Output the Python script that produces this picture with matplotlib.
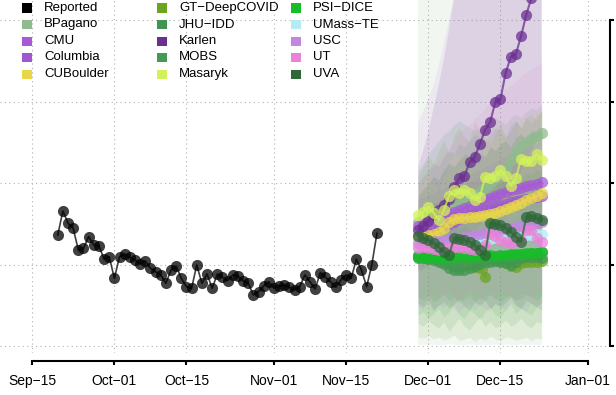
import pandas as pd
import matplotlib
matplotlib.use("Agg")
import matplotlib.pyplot as plt
import matplotlib.dates as mdates
from matplotlib.patches import Rectangle

plt.rcParams['font.family'] = ['Liberation Sans', 'DejaVu Sans']

# observed series, daily from Sep-20
reported_dates = pd.date_range("2020-09-20", periods=63)
reported = [68.1, 82.8, 75.3, 72.2, 58.9, 59.9, 67.1, 62.0, 61.5, 53.2,
            54.8, 41.5, 54.8, 56.4, 54.4, 52.8, 50.3, 52.3, 47.7, 45.6,
            43.6, 38.5, 46.6, 49.1, 41.5, 36.4, 35.4, 49.7, 38.5, 44.2,
            35.4, 44.2, 42.1, 40.1, 43.6, 42.9, 40.1, 38.5, 31.3, 33.3,
            36.8, 39.4, 35.4, 36.8, 37.4, 36.0, 34.4, 36.4, 43.6, 39.4,
            35.0, 45.0, 42.1, 39.4, 36.0, 40.5, 43.6, 41.5, 53.2, 46.6,
            36.4, 49.7, 69.1]

# forecasts, daily from Nov-29
fc_dates = pd.date_range("2020-11-29", periods=25)

bpagano_mid = [76.1, 77.3, 78.5, 79.8, 81.0, 82.2, 83.4, 85.3, 87.1, 89.0, 90.8, 92.6, 94.5,
               96.9, 99.4, 102.5, 105.5, 109.2, 114.1, 119.0, 122.7, 125.2, 127.0, 128.8, 130.7]
bpagano_lo = [0.6, 0.8, 0.5, 0.9, 0.7, 0.6, 1.0, 0.8, 0.5, 0.7, 0.9, 0.6, 0.8, 0.7, 0.5, 0.9, 0.6, 0.8,
              0.7, 0.6, 0.9, 0.7, 0.8, 0.6, 0.7]
bpagano_hi = [320, 322, 325, 327, 330, 332, 334, 336, 338, 340, 342, 344, 346, 348, 350, 352, 354, 356,
              358, 360, 362, 364, 366, 368, 370]

cmu_mid = [73.6, 74.8, 76.1, 77.3, 78.5, 79.8, 81.0, 82.2, 83.4, 84.7, 85.9, 87.1, 88.3,
           89.6, 90.8, 92.0, 93.3, 94.5, 95.7, 96.3, 96.9, 98.2, 98.8, 99.4, 100.6]
cmu_lo = [58, 59, 60, 61, 62, 63, 64, 65, 66, 66, 67, 68, 69, 70, 71, 71, 72, 73, 74, 74, 75, 76, 76, 77, 78]
cmu_hi = [90, 91, 93, 94, 96, 97, 99, 100, 102, 104, 105, 107, 108, 110, 111, 113, 115, 116, 118,
          119, 120, 122, 123, 124, 126]

columbia_mid = [67.5, 68.7, 69.9, 71.2, 72.4, 73.6, 74.8, 76.1, 77.9, 79.1, 80.4, 81.0, 82.2,
                83.4, 84.0, 85.3, 86.5, 87.1, 88.3, 89.0, 89.6, 90.2, 90.8, 91.4, 92.0]
columbia_lo = [54, 55, 56, 57, 57, 58, 59, 60, 61, 62, 63, 63, 64, 65, 65, 66, 67, 67, 68, 69, 69, 70, 70, 71, 71]
columbia_hi = [82, 84, 85, 87, 89, 91, 93, 95, 97, 99, 101, 102, 104, 106, 107, 109, 111, 112, 114,
               115, 116, 117, 118, 119, 120]

cuboulder_mid = [66.3, 66.9, 68.1, 68.7, 69.9, 72.4, 76.1, 77.9, 78.5, 78.5, 79.1, 79.1, 79.8,
                 80.4, 81.0, 81.6, 82.8, 84.1, 85.3, 86.5, 87.7, 89.6, 90.8, 92.0, 93.9]
cuboulder_lo = [52, 52, 53, 54, 55, 57, 59, 60, 60, 60, 61, 61, 61, 62, 62, 62, 63, 64, 64, 65, 66, 67, 67, 68, 69]
cuboulder_hi = [82, 83, 85, 86, 88, 91, 95, 97, 98, 99, 100, 100, 101, 102, 103, 104, 105, 107, 108,
                110, 111, 113, 115, 116, 118]

gt_mid = [55.2, 55.2, 54.6, 54.0, 53.4, 52.8, 52.1, 51.5, 50.9, 50.3, 49.7, 48.5, 47.9,
          42.3, 54.0, 53.4, 52.1, 50.9, 49.1, 48.5, 50.9, 51.5, 51.5, 51.5, 52.1]
gt_lo = [5.5, 4.9, 6.1, 4.3, 5.5, 3.7, 4.9, 6.7, 3.1, 4.3, 5.5, 2.5, 4.9, 3.7, 6.1, 4.3, 3.1, 5.5,
         4.9, 3.7, 4.3, 5.5, 3.1, 4.9, 4.3]
gt_hi = [104, 110, 116, 112, 120, 126, 118, 130, 134, 128, 126, 138, 132, 128, 124, 130, 136, 128,
         132, 138, 134, 140, 136, 142, 144]

jhu_mid = [54.0, 54.0, 53.4, 52.8, 51.5, 50.3, 47.9, 46.6, 46.6, 46.6, 47.9, 49.1, 50.3,
           51.5, 51.5, 52.1, 51.5, 50.9, 49.7, 51.5, 54.0, 54.6, 54.6, 54.6, 54.0]
jhu_lo = [14, 12, 16, 13, 11, 15, 9, 13, 17, 12, 10, 14, 18, 12, 15, 11, 13, 16, 12, 14, 17, 13, 11, 15, 14]
jhu_hi = [100, 104, 108, 112, 110, 116, 120, 118, 124, 122, 126, 130, 128, 126, 130, 134, 132, 128,
          136, 138, 134, 140, 142, 138, 145]

karlen_mid = [71.2, 73.6, 76.7, 80.4, 83.4, 86.5, 90.2, 97.5, 103.1, 104.3, 112.9, 116.0, 123.9,
              132.5, 137.4, 149.7, 151.5, 167.5, 177.3, 179.1, 190.2, 203.1, 213.5, 224.5, 236.8]
karlen_lo = [46, 47, 49, 51, 52, 54, 56, 60, 63, 64, 68, 70, 74, 78, 80, 86, 88, 95, 100, 102,
             107, 114, 120, 126, 132]
karlen_hi = [110, 120, 132, 146, 160, 176, 194, 214, 236, 258, 282, 306, 332, 360, 390, 420, 450,
             480, 510, 540, 570, 600, 630, 660, 690]

mobs_mid = [55.8, 55.2, 54.6, 54.0, 53.4, 52.1, 51.5, 50.9, 51.5, 52.1, 52.8, 53.4, 54.0,
            54.0, 54.6, 54.6, 55.2, 55.2, 55.8, 55.8, 56.4, 56.4, 57.1, 57.1, 57.7]
mobs_lo = [19, 21, 17, 20, 23, 18, 21, 25, 19, 17, 22, 20, 16, 21, 24, 19, 18, 22, 26, 20, 23, 21, 19, 24, 22]
mobs_hi = [108, 112, 118, 122, 126, 130, 132, 136, 138, 136, 134, 132, 134, 136, 138, 140, 138, 136,
           140, 142, 140, 144, 146, 145, 148]

masaryk_mid = [80.4, 82.2, 85.3, 81.6, 77.3, 83.4, 92.0, 95.7, 93.9, 95.7, 93.9, 89.6, 91.4,
               103.7, 103.1, 104.3, 108.0, 104.3, 98.2, 103.1, 114.7, 113.5, 113.5, 117.8, 114.1]
masaryk_lo = [62, 64, 66, 63, 59, 64, 71, 74, 72, 74, 72, 69, 70, 80, 79, 80, 83, 80, 75, 79, 88, 87, 87, 90, 88]
masaryk_hi = [99, 101, 105, 100, 95, 103, 113, 118, 116, 118, 116, 110, 112, 128, 127, 129, 133, 129,
              121, 127, 142, 140, 140, 146, 141]

psi_mid = [54.6, 54.6, 54.0, 54.0, 54.6, 54.0, 54.6, 54.6, 55.2, 55.2, 54.6, 55.2, 55.2,
           55.8, 55.8, 55.2, 55.8, 55.8, 56.4, 56.4, 56.4, 57.1, 57.1, 57.1, 57.7]
psi_lo = [30, 28, 31, 27, 29, 32, 28, 30, 26, 29, 31, 27, 30, 28, 32, 29, 27, 30, 31, 28, 29, 32, 30, 28, 31]
psi_hi = [84, 86, 85, 88, 87, 90, 89, 92, 91, 94, 93, 96, 95, 98, 97, 100, 99, 102, 101, 104, 103,
          106, 105, 108, 107]

umass_mid = [61.4, 62.0, 62.0, 62.6, 62.6, 63.2, 63.2, 63.8, 63.8, 64.4, 64.4, 65.0, 65.0,
             65.6, 65.6, 66.3, 66.3, 66.9, 66.9, 67.5, 67.5, 68.1, 68.1, 68.7, 68.7]
umass_lo = [50, 50, 51, 51, 51, 52, 52, 52, 53, 53, 53, 54, 54, 54, 55, 55, 55, 56, 56, 56, 57, 57, 57, 58, 58]
umass_hi = [73, 74, 74, 75, 75, 76, 76, 77, 77, 78, 78, 79, 79, 80, 80, 81, 81, 82, 82, 83, 83, 84, 84, 85, 85]

usc_mid = [63.2, 63.8, 63.8, 64.4, 64.4, 65.0, 65.6, 65.6, 66.3, 66.9, 67.5, 68.1, 68.7,
           69.3, 69.9, 70.6, 71.2, 71.8, 72.4, 73.0, 73.6, 74.2, 74.8, 75.5, 76.1]
usc_lo = [24, 22, 26, 21, 25, 23, 27, 22, 20, 24, 26, 22, 25, 23, 21, 26, 24, 22, 27, 25, 23, 21, 26, 24, 22]
usc_hi = [137, 144, 152, 160, 172, 186, 200, 214, 230, 246, 262, 276, 290, 300, 312, 322, 330, 338,
          345, 350, 356, 360, 364, 368, 372]

ut_mid = [60.1, 60.7, 60.1, 59.5, 58.9, 59.5, 60.1, 60.7, 60.7, 60.1, 59.5, 58.9, 60.1,
          62.0, 68.7, 67.5, 65.0, 63.8, 63.2, 64.4, 65.0, 71.2, 71.2, 66.3, 63.8]
ut_lo = [30, 32, 28, 33, 29, 31, 34, 30, 27, 32, 35, 30, 28, 33, 31, 29, 34, 32, 30, 28, 33, 31, 29, 34, 32]
ut_hi = [98, 102, 106, 110, 114, 118, 122, 126, 130, 134, 136, 140, 142, 146, 150, 152, 156, 158,
         160, 162, 166, 168, 170, 172, 174]

uva_mid = [67.5, 66.3, 65.0, 63.2, 60.7, 57.7, 55.8, 66.3, 65.6, 65.0, 63.8, 62.0, 58.9,
           55.8, 75.5, 74.8, 74.2, 72.4, 69.9, 66.9, 63.8, 79.1, 79.8, 78.5, 77.3]
uva_lo = [26, 24, 28, 22, 25, 27, 23, 26, 29, 24, 22, 27, 25, 28, 23, 26, 24, 27, 30, 25, 23, 28, 26, 24, 27]
uva_hi = [92, 96, 100, 104, 102, 108, 112, 110, 114, 118, 116, 120, 118, 116, 122, 120, 124, 126,
          122, 128, 130, 126, 132, 130, 134]

models = [
    ("BPagano", "#8fbc8f", bpagano_mid, bpagano_lo, bpagano_hi),
    ("CMU", "#a65ad6", cmu_mid, cmu_lo, cmu_hi),
    ("Columbia", "#a058d2", columbia_mid, columbia_lo, columbia_hi),
    ("CUBoulder", "#e8d848", cuboulder_mid, cuboulder_lo, cuboulder_hi),
    ("GT\u2212DeepCOVID", "#6ba521", gt_mid, gt_lo, gt_hi),
    ("JHU\u2212IDD", "#409650", jhu_mid, jhu_lo, jhu_hi),
    ("Karlen", "#6b2f91", karlen_mid, karlen_lo, karlen_hi),
    ("MOBS", "#429b52", mobs_mid, mobs_lo, mobs_hi),
    ("Masaryk", "#d2f25a", masaryk_mid, masaryk_lo, masaryk_hi),
    ("PSI\u2212DICE", "#16be28", psi_mid, psi_lo, psi_hi),
    ("UMass\u2212TE", "#b4ecf5", umass_mid, umass_lo, umass_hi),
    ("USC", "#c088de", usc_mid, usc_lo, usc_hi),
    ("UT", "#ea82da", ut_mid, ut_lo, ut_hi),
    ("UVA", "#2e6836", uva_mid, uva_lo, uva_hi),
]

tick_dates = pd.to_datetime(["2020-09-15", "2020-10-01", "2020-10-15", "2020-11-01",
                             "2020-11-15", "2020-12-01", "2020-12-15", "2021-01-01"])
tick_labels = ["Sep\u221215", "Oct\u221201", "Oct\u221215", "Nov\u221201",
               "Nov\u221215", "Dec\u221201", "Dec\u221215", "Jan\u221201"]
y_ticks = [0, 50, 100, 150, 200]

fig = plt.figure(figsize=(6.16, 3.95), dpi=100)
ax = fig.add_axes([0, 42 / 395, 607 / 616, 353 / 395])

ax.plot(reported_dates, reported, '-o', color='black', alpha=0.75, ms=8, lw=1.2, mec='none')

# each model: its interval, then its median path
for name, col, mid, lo, hi in models:
    ax.fill_between(fc_dates, lo, hi, color=col, alpha=0.12, lw=0)
    ax.plot(fc_dates, mid, '-o', color=col, alpha=0.75, ms=8, lw=1.5, mec='none')

tick_num = mdates.date2num(tick_dates)
start = tick_num[0]
ax.set_xlim(start - 6.216, start + 111.69)
ax.set_ylim(-4.29, 212.27)

ax.set_xticks(tick_num)
ax.set_xticklabels(tick_labels, fontsize=12)
ax.set_yticks(y_ticks)
ax.yaxis.tick_right()
ax.tick_params(axis='y', labelright=False, direction='out', length=3, width=1.5)
ax.tick_params(axis='x', direction='out', length=3, width=1.5, pad=6.5)
ax.grid(True, color='#b0b0b0', linestyle=(0, (1, 3)), lw=0.8)
ax.set_axisbelow(True)

for s in ['top', 'left']:
    ax.spines[s].set_visible(False)
ax.spines['bottom'].set_position(('outward', 5.8))
ax.spines['bottom'].set_bounds(tick_num[0], tick_num[-1])
ax.spines['bottom'].set_linewidth(1.5)
ax.spines['right'].set_position(('outward', 2.2))
ax.spines['right'].set_bounds(0, 200)
ax.spines['right'].set_linewidth(1.5)

# legend, three columns
entries = [("Reported", "black")] + [(m[0], m[1]) for m in models]
col_x = [22, 157, 291]
for k, (name, col) in enumerate(entries):
    c, r = divmod(k, 5)
    y = 8 + r * 16.5
    fig.patches.append(Rectangle((col_x[c] / 616, 1 - (y + 4.5) / 395), 10 / 616, 9 / 395,
                                 transform=fig.transFigure, color=col, lw=0))
    fig.text((col_x[c] + 22) / 616, 1 - y / 395, name, fontsize=9.5, va='center', ha='left')

fig.savefig("out.png", dpi=100)
